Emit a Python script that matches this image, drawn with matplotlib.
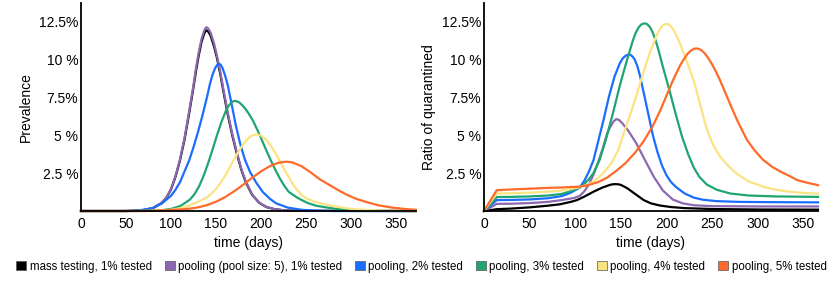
import matplotlib
matplotlib.use("Agg")
import matplotlib.pyplot as plt
from matplotlib.patches import Patch

plt.rcParams['font.family'] = ['Liberation Sans', 'DejaVu Sans']

labels = ['mass testing, 1% tested', 'pooling (pool size: 5), 1% tested',
          'pooling, 2% tested', 'pooling, 3% tested', 'pooling, 4% tested',
          'pooling, 5% tested']
colors = ['#000000', '#8c68b0', '#1a6dff', '#1fa56f', '#fbe382', '#ff6a2a']

yticks = [2.5, 5, 7.5, 10, 12.5]
yticklabels = ['2.5 %', '5 %', '7.5%', '10 %', '12.5%']
xticks = [0, 50, 100, 150, 200, 250, 300, 350]

# ---- left panel: prevalence (%) ----
prev_black_d = [0, 50, 60, 70, 80, 90, 95, 100, 105, 110, 115, 120, 125, 128, 131, 134, 137, 139,
                141, 144, 148, 151, 155, 158, 163, 168, 173, 178, 183, 190, 198, 206, 215, 225,
                240, 372]
prev_black_v = [0, 0, 0.02, 0.07, 0.19, 0.54, 0.88, 1.42, 2.25, 3.33, 4.7, 6.37, 8.15, 9.3, 10.3,
                11.15, 11.7, 11.9, 11.85, 11.55, 10.8, 10.1, 8.95, 7.95, 6.38, 5.0, 3.82, 2.74,
                1.91, 1.08, 0.54, 0.26, 0.12, 0.05, 0.01, 0]

prev_purple_d = [0, 50, 60, 70, 80, 90, 95, 100, 105, 110, 115, 120, 125, 128, 131, 134, 137, 139,
                 141, 144, 148, 151, 155, 158, 163, 168, 173, 178, 183, 190, 198, 206, 215, 225,
                 240, 372]
prev_purple_v = [0, 0, 0.02, 0.07, 0.2, 0.55, 0.9, 1.45, 2.3, 3.4, 4.8, 6.5, 8.3, 9.5, 10.5,
                 11.35, 11.9, 12.1, 12.05, 11.75, 11.0, 10.25, 9.1, 8.1, 6.5, 5.1, 3.9, 2.8, 1.95,
                 1.1, 0.55, 0.27, 0.12, 0.05, 0.01, 0]

prev_blue_d = [0, 50, 60, 70, 80, 90, 100, 105, 110, 115, 120, 125, 130, 135, 140, 143, 146, 149,
               151, 153, 155, 157, 160, 163, 167, 172, 177, 182, 188, 195, 202, 210, 217, 230,
               245, 260, 280, 372]
prev_blue_v = [0, 0, 0.03, 0.08, 0.2, 0.5, 1.0, 1.4, 1.9, 2.6, 3.3, 4.2, 5.2, 6.3, 7.5, 8.3, 8.95,
               9.4, 9.6, 9.7, 9.65, 9.45, 8.95, 8.3, 7.15, 5.65, 4.4, 3.4, 2.55, 1.84, 1.25, 0.8,
               0.5, 0.22, 0.08, 0.03, 0, 0]

prev_green_d = [0, 60, 81, 91, 101, 111, 121, 126, 131, 136, 141, 146, 151, 156, 161, 164, 167,
                169, 171, 173, 176, 179, 182, 186, 191, 196, 201, 206, 211, 216, 221, 226, 231,
                241, 251, 261, 271, 281, 300, 320, 372]
prev_green_v = [0, 0, 0.02, 0.06, 0.15, 0.35, 0.75, 1.1, 1.6, 2.28, 3.1, 4.02, 4.97, 5.86, 6.6,
                6.93, 7.14, 7.22, 7.25, 7.23, 7.14, 6.98, 6.78, 6.45, 5.96, 5.34, 4.67, 3.98,
                3.32, 2.7, 2.14, 1.65, 1.25, 0.85, 0.55, 0.35, 0.25, 0.16, 0.06, 0.01, 0]

prev_yellow_d = [0, 70, 80, 90, 100, 110, 120, 130, 140, 145, 150, 155, 160, 165, 170, 175, 180,
                 185, 190, 195, 200, 205, 210, 215, 220, 225, 230, 235, 240, 245, 250, 260, 270,
                 280, 290, 300, 316, 340, 372]
prev_yellow_v = [0, 0, 0.015, 0.04, 0.08, 0.18, 0.35, 0.6, 0.9, 1.15, 1.45, 1.85, 2.31, 2.84,
                 3.39, 3.91, 4.38, 4.74, 4.97, 5.05, 4.97, 4.74, 4.38, 3.91, 3.39, 2.84, 2.31,
                 1.82, 1.39, 1.07, 0.85, 0.6, 0.45, 0.33, 0.22, 0.14, 0.07, 0.02, 0]

prev_orange_d = [0, 70, 80, 90, 100, 110, 120, 130, 140, 150, 160, 170, 180, 190, 200, 210, 220,
                 228, 235, 245, 255, 265, 275, 285, 295, 305, 316, 330, 345, 360, 372]
prev_orange_v = [0, 0, 0.02, 0.04, 0.07, 0.1, 0.15, 0.24, 0.39, 0.61, 0.91, 1.29, 1.72, 2.18,
                 2.61, 2.96, 3.19, 3.25, 3.2, 2.95, 2.55, 2.1, 1.75, 1.4, 1.08, 0.82, 0.61, 0.38,
                 0.23, 0.13, 0.08]

# ---- right panel: ratio of quarantined (%) ----
quar_black_d = [0, 14, 30, 50, 70, 83, 95, 102, 110, 120, 130, 138, 141, 144, 147, 150, 157, 165,
                175, 183, 193, 205, 220, 250, 300, 366]
quar_black_v = [0, 0.12, 0.16, 0.24, 0.35, 0.44, 0.6, 0.72, 0.95, 1.27, 1.55, 1.72, 1.76, 1.77,
                1.76, 1.72, 1.5, 1.15, 0.72, 0.5, 0.36, 0.26, 0.19, 0.13, 0.1, 0.09]

quar_purple_d = [0, 14, 30, 50, 70, 85, 95, 100, 105, 110, 115, 120, 125, 130, 135, 138, 142, 145,
                 148, 152, 158, 167, 176, 186, 196, 207, 218, 230, 250, 300, 366]
quar_purple_v = [0, 0.47, 0.48, 0.52, 0.6, 0.72, 0.82, 0.88, 1.0, 1.3, 1.75, 2.4, 3.2, 4.1, 5.1,
                 5.5, 5.9, 6.05, 6.0, 5.75, 5.3, 4.45, 3.4, 2.26, 1.35, 0.75, 0.5, 0.38, 0.32,
                 0.3, 0.3]

quar_blue_d = [0, 14, 30, 50, 70, 85, 95, 105, 110, 115, 120, 125, 131, 137, 143, 149, 152, 155,
               158, 160, 162, 165, 168, 171, 175, 180, 185, 190, 195, 200, 205, 211, 220, 230,
               240, 255, 280, 320, 366]
quar_blue_v = [0, 0.72, 0.73, 0.76, 0.84, 0.98, 1.2, 1.55, 2.0, 2.6, 3.35, 4.55, 6.0, 7.55, 8.85,
               9.75, 10.05, 10.22, 10.3, 10.3, 10.22, 10.0, 9.55, 8.9, 7.8, 6.4, 5.0, 3.9, 3.0,
               2.35, 1.9, 1.55, 1.15, 0.88, 0.74, 0.65, 0.6, 0.58, 0.57]

quar_green_d = [0, 14, 30, 50, 70, 85, 95, 105, 110, 115, 120, 127, 134, 142, 149, 156, 163, 166,
                169, 172, 175, 177, 179, 182, 185, 188, 191, 196, 203, 210, 217, 224, 230, 236,
                244, 255, 270, 290, 320, 366]
quar_green_v = [0, 0.92, 0.93, 0.96, 1.02, 1.12, 1.3, 1.55, 1.8, 2.1, 2.5, 3.4, 4.8, 6.6, 8.3,
                9.8, 11.2, 11.7, 12.05, 12.27, 12.35, 12.35, 12.3, 12.1, 11.75, 11.25, 10.65,
                9.5, 8.0, 6.4, 4.9, 3.7, 2.85, 2.25, 1.75, 1.4, 1.15, 1.02, 0.96, 0.93]

quar_yellow_d = [0, 14, 30, 50, 70, 85, 95, 105, 112, 119, 126, 133, 140, 147, 153, 160, 167, 174,
                 181, 188, 191, 194, 197, 200, 202, 205, 208, 211, 215, 222, 230, 237, 244, 251,
                 259, 268, 277, 290, 306, 320, 336, 350, 366]
quar_yellow_v = [0, 1.15, 1.17, 1.21, 1.27, 1.35, 1.45, 1.57, 1.7, 1.9, 2.2, 2.65, 3.2, 4.0, 5.1,
                 6.3, 7.6, 9.0, 10.3, 11.4, 11.8, 12.1, 12.27, 12.32, 12.3, 12.15, 11.9, 11.55,
                 11.0, 9.9, 8.55, 7.0, 5.4, 4.35, 3.56, 2.95, 2.46, 1.95, 1.6, 1.4, 1.26, 1.19,
                 1.14]

quar_orange_d = [0, 14, 30, 50, 70, 85, 95, 105, 115, 125, 135, 145, 155, 165, 175, 185, 193, 200,
                 207, 215, 219, 223, 227, 231, 234, 238, 242, 246, 250, 254, 258, 263, 270, 278,
                 288, 297, 306, 316, 325, 335, 343, 355, 366]
quar_orange_v = [0, 1.37, 1.42, 1.47, 1.52, 1.55, 1.58, 1.6, 1.72, 1.9, 2.2, 2.65, 3.15, 3.8, 4.6,
                 5.6, 6.6, 7.6, 8.6, 9.6, 10.0, 10.35, 10.58, 10.7, 10.7, 10.6, 10.38, 10.05,
                 9.65, 9.2, 8.7, 8.0, 7.0, 5.9, 4.7, 3.95, 3.36, 2.9, 2.59, 2.3, 2.04, 1.85, 1.7]

prev_series = [(prev_black_d, prev_black_v), (prev_purple_d, prev_purple_v),
               (prev_blue_d, prev_blue_v), (prev_green_d, prev_green_v),
               (prev_yellow_d, prev_yellow_v), (prev_orange_d, prev_orange_v)]
quar_series = [(quar_black_d, quar_black_v), (quar_purple_d, quar_purple_v),
               (quar_blue_d, quar_blue_v), (quar_green_d, quar_green_v),
               (quar_yellow_d, quar_yellow_v), (quar_orange_d, quar_orange_v)]


def style_axes(ax, xmax, ylabel):
    ax.set_xlim(0, xmax)
    ax.set_ylim(0, 13.7)
    ax.set_xticks(xticks)
    ax.set_yticks(yticks)
    ax.set_yticklabels(yticklabels)
    ax.tick_params(length=0, labelsize=10, pad=2)
    ax.tick_params(axis='x', pad=4)
    for s in ['top', 'right']:
        ax.spines[s].set_visible(False)
    for s in ['left', 'bottom']:
        ax.spines[s].set_linewidth(1.3)
        ax.spines[s].set_color('black')
    ax.set_xlabel('time (days)', fontsize=10, labelpad=4)
    ax.set_ylabel(ylabel, fontsize=10, labelpad=4)


fig = plt.figure(figsize=(8.33, 2.83), dpi=100)
ax1 = fig.add_axes([0.0972, 0.2544, 0.402, 0.735])
ax2 = fig.add_axes([0.581, 0.2544, 0.401, 0.735])

for (d, v), c in zip(prev_series, colors):
    ax1.plot(d, v, color=c, lw=1.6, solid_joinstyle='round', clip_on=False)
for (d, v), c in zip(quar_series, colors):
    ax2.plot(d, v, color=c, lw=1.6, solid_joinstyle='round', clip_on=False)

style_axes(ax1, 372, 'Prevalence')
style_axes(ax2, 366, 'Ratio of quarantined')

handles = [Patch(facecolor=c, edgecolor='#555555', linewidth=0.5) for c in colors]
fig.legend(handles, labels, loc='center', bbox_to_anchor=(0.506, 0.058), ncol=6,
           frameon=False, handlelength=0.87, handleheight=0.9,
           handletextpad=0.3, columnspacing=1.1, borderaxespad=0,
           prop={'family': 'Liberation Sans', 'size': 8.3})

fig.savefig('out.png', dpi=100)
